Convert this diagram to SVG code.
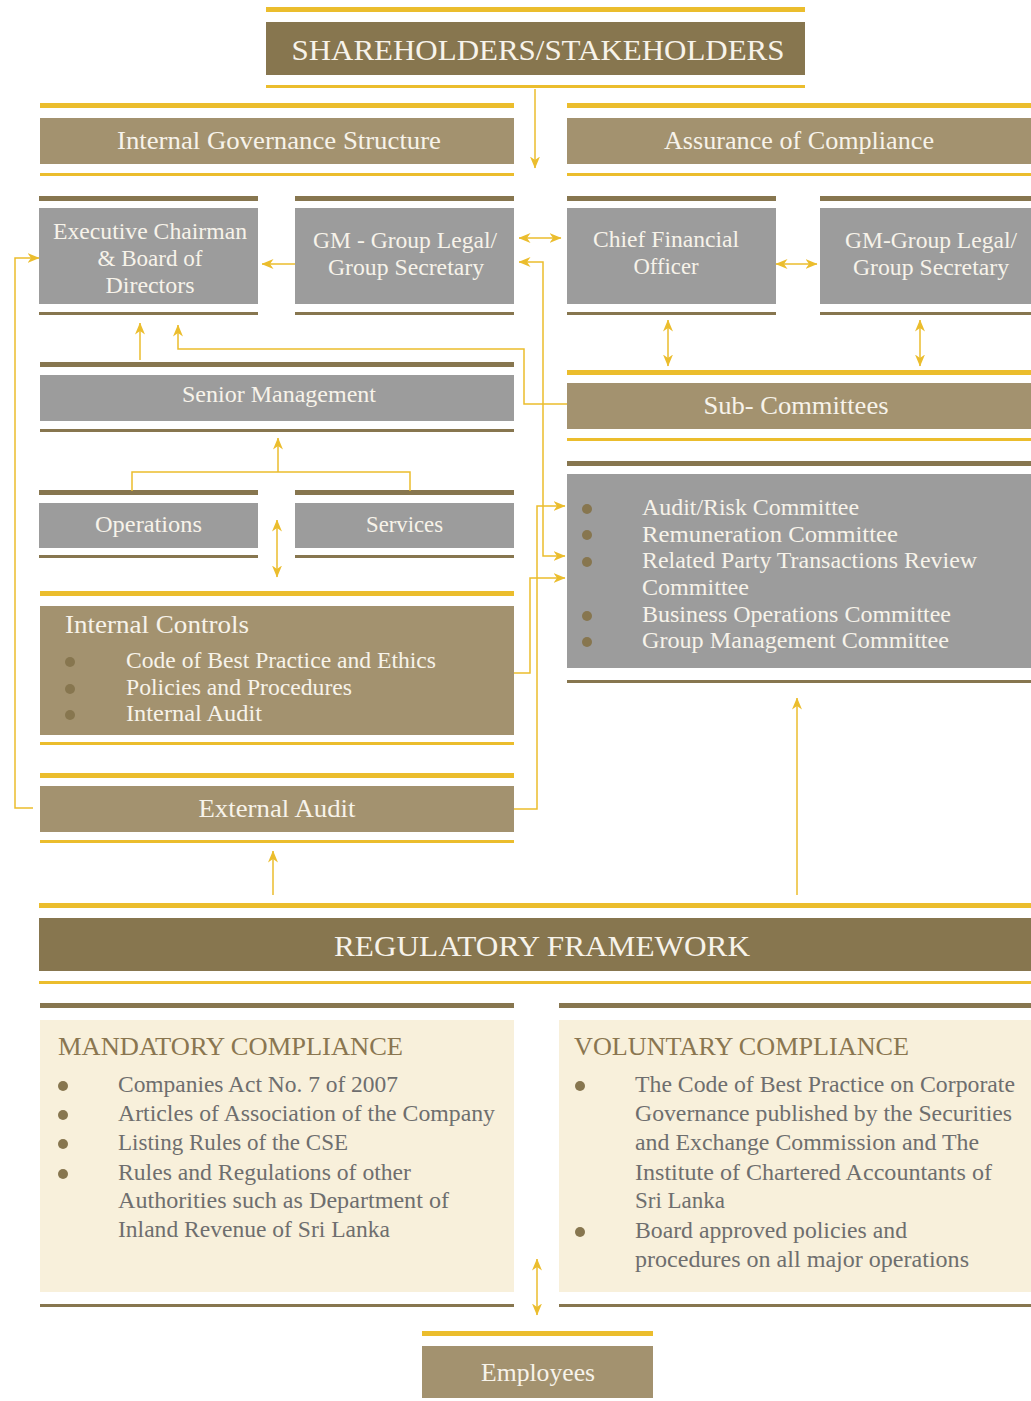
<svg xmlns="http://www.w3.org/2000/svg" width="1031" height="1401" viewBox="0 0 1031 1401">
<defs>
<style>
.gk{fill:#EBBD2D}
.bk{fill:#87764F}
.dark{fill:#87764F}
.light{fill:#A3926F}
.gray{fill:#9C9C9C}
.cream{fill:#F8F0DB}
text{font-family:"Liberation Serif","DejaVu Serif",serif}
.lbl{fill:#F7F3EA;text-anchor:middle}
.lbll{fill:#F7F3EA}
.hdr{fill:#8A7650}
.itm{fill:#6E6E6E}
.dot{fill:#87764F}
.con{fill:none;stroke:#EBBD2D;stroke-width:1.5}
</style>
<marker id="ah" viewBox="0 0 12 10" refX="11.5" refY="5" markerWidth="12" markerHeight="10" markerUnits="userSpaceOnUse" orient="auto-start-reverse">
<path d="M0,0 L12,5 L0,10 L3.5,5 z" fill="#EBBD2D"/>
</marker>
</defs>
<rect width="1031" height="1401" fill="#FFFFFF"/>

<g id="shareholders">
<rect class="gk" x="266" y="7" width="539" height="5"/>
<rect class="dark" x="266" y="22" width="539" height="53"/>
<rect class="gk" x="266" y="85" width="539" height="3"/>
<text class="lbl" x="538" y="60" font-size="30" textLength="493" lengthAdjust="spacingAndGlyphs">SHAREHOLDERS/STAKEHOLDERS</text>
</g>

<g id="internal-governance">
<rect class="gk" x="40" y="103" width="474" height="5"/>
<rect class="light" x="40" y="118" width="474" height="46"/>
<rect class="gk" x="40" y="173" width="474" height="3"/>
<text class="lbl" x="279" y="149" font-size="26" textLength="324" lengthAdjust="spacingAndGlyphs">Internal Governance Structure</text>
</g>

<g id="assurance">
<rect class="gk" x="567" y="103" width="464" height="5"/>
<rect class="light" x="567" y="118" width="464" height="46"/>
<rect class="gk" x="567" y="173" width="464" height="3"/>
<text class="lbl" x="799" y="149" font-size="26" textLength="270" lengthAdjust="spacingAndGlyphs">Assurance of Compliance</text>
</g>

<g id="exec-chairman">
<rect class="bk" x="39" y="196" width="219" height="5"/>
<rect class="gray" x="39" y="208" width="219" height="96"/>
<rect class="bk" x="39" y="312" width="219" height="3"/>
<text class="lbl" x="150" y="239" font-size="24" textLength="194" lengthAdjust="spacingAndGlyphs">Executive Chairman</text>
<text class="lbl" x="150" y="266" font-size="24" textLength="105" lengthAdjust="spacingAndGlyphs">&amp; Board of</text>
<text class="lbl" x="150" y="293" font-size="24" textLength="89" lengthAdjust="spacingAndGlyphs">Directors</text>
</g>

<g id="gm-legal">
<rect class="bk" x="295" y="196" width="219" height="5"/>
<rect class="gray" x="295" y="208" width="219" height="96"/>
<rect class="bk" x="295" y="312" width="219" height="3"/>
<text class="lbl" x="405" y="248" font-size="24" textLength="184" lengthAdjust="spacingAndGlyphs">GM - Group Legal/</text>
<text class="lbl" x="406" y="275" font-size="24" textLength="156" lengthAdjust="spacingAndGlyphs">Group Secretary</text>
</g>

<g id="cfo">
<rect class="bk" x="567" y="196" width="209" height="5"/>
<rect class="gray" x="567" y="208" width="209" height="96"/>
<rect class="bk" x="567" y="312" width="209" height="3"/>
<text class="lbl" x="666" y="247" font-size="24" textLength="146" lengthAdjust="spacingAndGlyphs">Chief Financial</text>
<text class="lbl" x="666" y="274" font-size="24" textLength="65" lengthAdjust="spacingAndGlyphs">Officer</text>
</g>

<g id="gm-group-legal">
<rect class="bk" x="820" y="196" width="211" height="5"/>
<rect class="gray" x="820" y="208" width="211" height="96"/>
<rect class="bk" x="820" y="312" width="211" height="3"/>
<text class="lbl" x="931" y="248" font-size="24" textLength="172" lengthAdjust="spacingAndGlyphs">GM-Group Legal/</text>
<text class="lbl" x="931" y="275" font-size="24" textLength="156" lengthAdjust="spacingAndGlyphs">Group Secretary</text>
</g>

<g id="senior-management">
<rect class="bk" x="40" y="362" width="474" height="5"/>
<rect class="gray" x="40" y="375" width="474" height="46"/>
<rect class="bk" x="40" y="429" width="474" height="3"/>
<text class="lbl" x="279" y="402" font-size="24" textLength="194" lengthAdjust="spacingAndGlyphs">Senior Management</text>
</g>

<g id="sub-committees">
<rect class="gk" x="567" y="370" width="464" height="5"/>
<rect class="light" x="567" y="383" width="464" height="46"/>
<rect class="gk" x="567" y="438" width="464" height="3"/>
<text class="lbl" x="796" y="414" font-size="25" textLength="185" lengthAdjust="spacingAndGlyphs">Sub- Committees</text>
</g>

<g id="operations">
<rect class="bk" x="39" y="490" width="219" height="5"/>
<rect class="gray" x="39" y="503" width="219" height="45"/>
<rect class="bk" x="39" y="555" width="219" height="3"/>
<text class="lbl" x="148.5" y="532" font-size="24" textLength="107" lengthAdjust="spacingAndGlyphs">Operations</text>
</g>

<g id="services">
<rect class="bk" x="295" y="490" width="219" height="5"/>
<rect class="gray" x="295" y="503" width="219" height="45"/>
<rect class="bk" x="295" y="555" width="219" height="3"/>
<text class="lbl" x="404.5" y="532" font-size="24" textLength="77" lengthAdjust="spacingAndGlyphs">Services</text>
</g>

<g id="committees-list">
<rect class="bk" x="567" y="461" width="464" height="5"/>
<rect class="gray" x="567" y="474" width="464" height="194"/>
<rect class="bk" x="567" y="680" width="464" height="3"/>
<circle class="dot" cx="587" cy="509" r="5"/>
<circle class="dot" cx="587" cy="535" r="5"/>
<circle class="dot" cx="587" cy="562" r="5"/>
<circle class="dot" cx="587" cy="616" r="5"/>
<circle class="dot" cx="587" cy="642" r="5"/>
<text class="lbll" x="642" y="515" font-size="24" textLength="217" lengthAdjust="spacingAndGlyphs">Audit/Risk Committee</text>
<text class="lbll" x="642" y="542" font-size="24" textLength="256" lengthAdjust="spacingAndGlyphs">Remuneration  Committee</text>
<text class="lbll" x="642" y="568" font-size="24" textLength="335" lengthAdjust="spacingAndGlyphs">Related Party Transactions  Review</text>
<text class="lbll" x="642" y="595" font-size="24" textLength="107" lengthAdjust="spacingAndGlyphs">Committee</text>
<text class="lbll" x="642" y="622" font-size="24" textLength="309" lengthAdjust="spacingAndGlyphs">Business Operations Committee</text>
<text class="lbll" x="642" y="648" font-size="24" textLength="307" lengthAdjust="spacingAndGlyphs">Group Management Committee</text>
</g>

<g id="internal-controls">
<rect class="gk" x="40" y="591" width="474" height="5"/>
<rect class="light" x="40" y="606" width="474" height="129"/>
<rect class="gk" x="40" y="742" width="474" height="3"/>
<text class="lbll" x="65" y="633" font-size="26" textLength="184" lengthAdjust="spacingAndGlyphs">Internal Controls</text>
<circle class="dot" cx="70" cy="662" r="5"/>
<circle class="dot" cx="70" cy="689" r="5"/>
<circle class="dot" cx="70" cy="715" r="5"/>
<text class="lbll" x="126" y="668" font-size="24" textLength="310" lengthAdjust="spacingAndGlyphs">Code of Best Practice and Ethics</text>
<text class="lbll" x="126" y="695" font-size="24" textLength="226" lengthAdjust="spacingAndGlyphs">Policies and Procedures</text>
<text class="lbll" x="126" y="721" font-size="24" textLength="136" lengthAdjust="spacingAndGlyphs">Internal Audit</text>
</g>

<g id="external-audit">
<rect class="gk" x="40" y="773" width="474" height="5"/>
<rect class="light" x="40" y="786" width="474" height="46"/>
<rect class="gk" x="40" y="840" width="474" height="3"/>
<text class="lbl" x="277" y="817" font-size="26" textLength="157" lengthAdjust="spacingAndGlyphs">External Audit</text>
</g>

<g id="regulatory-framework">
<rect class="gk" x="39" y="903" width="992" height="5"/>
<rect class="dark" x="39" y="918" width="992" height="53"/>
<rect class="gk" x="39" y="981" width="992" height="3"/>
<text class="lbl" x="542" y="956" font-size="30" textLength="416" lengthAdjust="spacingAndGlyphs">REGULATORY FRAMEWORK</text>
</g>

<g id="mandatory-compliance">
<rect class="bk" x="40" y="1003" width="474" height="5"/>
<rect class="cream" x="40" y="1020" width="474" height="272"/>
<rect class="bk" x="40" y="1304" width="474" height="3"/>
<text class="hdr" x="58" y="1055" font-size="26" textLength="345" lengthAdjust="spacingAndGlyphs">MANDATORY COMPLIANCE</text>
<circle class="dot" cx="63" cy="1086" r="5"/>
<circle class="dot" cx="63" cy="1115" r="5"/>
<circle class="dot" cx="63" cy="1144" r="5"/>
<circle class="dot" cx="63" cy="1174" r="5"/>
<text class="itm" x="118" y="1092" font-size="23.5" textLength="280" lengthAdjust="spacingAndGlyphs">Companies Act No. 7 of 2007</text>
<text class="itm" x="118" y="1121" font-size="23.5" textLength="377" lengthAdjust="spacingAndGlyphs">Articles of Association of the Company</text>
<text class="itm" x="118" y="1150" font-size="23.5" textLength="230" lengthAdjust="spacingAndGlyphs">Listing Rules of the CSE</text>
<text class="itm" x="118" y="1180" font-size="23.5" textLength="293" lengthAdjust="spacingAndGlyphs">Rules and Regulations of other</text>
<text class="itm" x="118" y="1208" font-size="23.5" textLength="331" lengthAdjust="spacingAndGlyphs">Authorities such as Department of</text>
<text class="itm" x="118" y="1237" font-size="23.5" textLength="272" lengthAdjust="spacingAndGlyphs">Inland Revenue of Sri Lanka</text>
</g>

<g id="voluntary-compliance">
<rect class="bk" x="559" y="1003" width="472" height="5"/>
<rect class="cream" x="559" y="1020" width="472" height="272"/>
<rect class="bk" x="559" y="1304" width="472" height="3"/>
<text class="hdr" x="574" y="1055" font-size="26" textLength="335" lengthAdjust="spacingAndGlyphs">VOLUNTARY COMPLIANCE</text>
<circle class="dot" cx="580" cy="1086" r="5"/>
<circle class="dot" cx="580" cy="1232" r="5"/>
<text class="itm" x="635" y="1092" font-size="23.5" textLength="380" lengthAdjust="spacingAndGlyphs">The Code of Best Practice on Corporate</text>
<text class="itm" x="635" y="1121" font-size="23.5" textLength="377" lengthAdjust="spacingAndGlyphs">Governance published by the Securities</text>
<text class="itm" x="635" y="1150" font-size="23.5" textLength="344" lengthAdjust="spacingAndGlyphs">and Exchange Commission and The</text>
<text class="itm" x="635" y="1180" font-size="23.5" textLength="357" lengthAdjust="spacingAndGlyphs">Institute of Chartered Accountants of</text>
<text class="itm" x="635" y="1208" font-size="23.5" textLength="90" lengthAdjust="spacingAndGlyphs">Sri Lanka</text>
<text class="itm" x="635" y="1238" font-size="23.5" textLength="272" lengthAdjust="spacingAndGlyphs">Board approved policies and</text>
<text class="itm" x="635" y="1267" font-size="23.5" textLength="334" lengthAdjust="spacingAndGlyphs">procedures on all major operations</text>
</g>

<g id="employees">
<rect class="gk" x="422" y="1331" width="231" height="5"/>
<rect class="light" x="422" y="1346" width="231" height="52"/>
<text class="lbl" x="538" y="1381" font-size="26" textLength="114" lengthAdjust="spacingAndGlyphs">Employees</text>
</g>

<g id="connectors">
<path class="con" d="M535,89 V168" marker-end="url(#ah)"/>
<path class="con" d="M519,238 H561" marker-start="url(#ah)" marker-end="url(#ah)"/>
<path class="con" d="M295,264 H262" marker-end="url(#ah)"/>
<path class="con" d="M776,264 H817" marker-start="url(#ah)" marker-end="url(#ah)"/>
<path class="con" d="M668,320 V366" marker-start="url(#ah)" marker-end="url(#ah)"/>
<path class="con" d="M920,320 V366" marker-start="url(#ah)" marker-end="url(#ah)"/>
<path class="con" d="M33,808 H15 V258 H39" marker-end="url(#ah)"/>
<path class="con" d="M140,360 V323" marker-end="url(#ah)"/>
<path class="con" d="M567,404 H524 V349 H178 V325" marker-end="url(#ah)"/>
<path class="con" d="M519,262 H543 V556 H565" marker-start="url(#ah)" marker-end="url(#ah)"/>
<path class="con" d="M514,809 H537 V506 H565" marker-end="url(#ah)"/>
<path class="con" d="M514,673 H530 V578 H565" marker-end="url(#ah)"/>
<path class="con" d="M132,491 V472 H410 V491"/>
<path class="con" d="M278,472 V438" marker-end="url(#ah)"/>
<path class="con" d="M277,520 V577" marker-start="url(#ah)" marker-end="url(#ah)"/>
<path class="con" d="M273,895 V851" marker-end="url(#ah)"/>
<path class="con" d="M797,895 V698" marker-end="url(#ah)"/>
<path class="con" d="M537,1259 V1315" marker-start="url(#ah)" marker-end="url(#ah)"/>
</g>
</svg>
